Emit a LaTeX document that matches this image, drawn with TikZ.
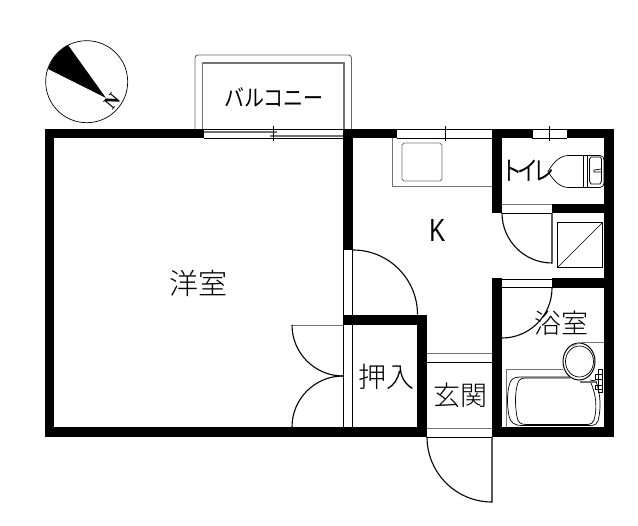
\documentclass[tikz,border=0pt]{standalone}
\usepackage{fontspec}
\newfontfamily\cjk{Noto Sans CJK JP Light}
\newfontfamily\cjkr{Noto Sans CJK JP}
\newfontfamily\serifn{Liberation Serif}
\setmainfont{Liberation Sans}
\tikzset{
 wall/.style={fill=black,draw=none},
 thin line/.style={draw=black,line width=0.9pt},
 grey line/.style={draw=black!55,line width=0.9pt},
 fine/.style={draw=black,line width=0.7pt},
 door/.style={draw=black,line width=1.1pt},
 label/.style={inner sep=0pt,font=\cjk\fontsize{28}{28}\selectfont},
}
\begin{document}
\begin{tikzpicture}[x=1pt,y=-1pt]
\useasboundingbox (0,0) rectangle (638,526);
% walls
\fill[wall] (45,129) rectangle (204,138.5);
\fill[wall] (45,129) rectangle (54,437);
\fill[wall] (343,129) rectangle (397,138.5);
\fill[wall] (343,129) rectangle (353,250);
\fill[wall] (492,129) rectangle (532,138.5);
\fill[wall] (567,129) rectangle (614,138.5);
\fill[wall] (604,129) rectangle (614,437);
\fill[wall] (492,129) rectangle (502,213);
\fill[wall] (552,204) rectangle (604,213);
\fill[wall] (492,278) rectangle (502,437);
\fill[wall] (552,278) rectangle (604,288);
\fill[wall] (45,427) rectangle (427,437);
\fill[wall] (492,427) rectangle (614,437);
\fill[wall] (343,315) rectangle (427,325);
\fill[wall] (417,315) rectangle (427,437);
% balcony
\draw[thin line,black!60,rounded corners=3pt] (195,129) -- (195,55) -- (351.5,55) -- (351.5,129);
\draw[grey line,line width=1.2pt] (202.5,129) -- (202.5,63) -- (344,63) -- (344,129);
% balcony window
\draw[thin line] (204,129.5) -- (343,129.5) (204,138) -- (343,138);
\draw[draw=black!55,line width=2pt] (204,132) -- (277,132) (270,136) -- (343,136);
\draw[thin line] (273,126) -- (273,141);
% kitchen window
\draw[thin line] (397,129.5) -- (492,129.5) (397,138) -- (492,138);
\draw[thin line] (445,126) -- (445,141);
% toilet window
\draw[thin line] (532,129.5) -- (567,129.5) (532,138) -- (567,138) (532,129) -- (532,138) (567,129) -- (567,138);
\draw[thin line] (549,126) -- (549,141);
% sink
\draw[grey line] (392,138.5) -- (392,186) -- (492,186);
\draw[grey line] (404,143) -- (440,143) -- (442,145) -- (442,179) -- (440,181) -- (404,181) -- (402,179) -- (402,145) -- cycle;
% door openings
\draw[grey line] (502,204.5) -- (552,204.5);
\draw[thin line] (502,213) -- (552,213);
\draw[thin line] (502,279) -- (552,279);
\draw[thin line] (502,287.5) -- (552,287.5);
\draw[thin line] (343.5,250) -- (343.5,437) (352.5,250) -- (352.5,437);
\fill[wall] (343,315) rectangle (353,325);
\fill[wall] (343,427) rectangle (353,437);
\draw[grey line] (427,353.5) -- (492,353.5);
\draw[thin line] (427,362) -- (492,362);
\draw[grey line] (427,428) -- (492,428);
\draw[thin line] (427,437) -- (492,437);
% doors
\draw[door] (552,213) -- (552,263) arc[start angle=90,end angle=180,radius=50];
\draw[door] (552,288) arc[start angle=0,end angle=90,radius=50];
\draw[door] (492,437) -- (492,502) arc[start angle=90,end angle=180,radius=65];
\draw[door] (353,250) arc[start angle=270,end angle=360,radius=64.5];
\draw[grey line] (343,325) -- (292,325);
\draw[door] (292,325) arc[start angle=180,end angle=90,radius=51];
\draw[door] (343,376) arc[start angle=270,end angle=180,radius=51];
% washing pan
\draw[fine,line width=1pt] (557,223) rectangle (602,268);
\draw[fine] (557,268) -- (602,223);
% toilet
\draw[fine] (583,155.5) -- (568,155.5) .. controls (558,156) and (552,165) .. (548,171.5) .. controls (552,178) and (558,187) .. (568,187.5) -- (583,187.5);
\draw[fine] (583,155.5) rectangle (587,187.5);
\draw[fine] (587,155.5) -- (600,155.5) .. controls (603,155.5) and (604,158) .. (604,160) -- (604,183) .. controls (604,185) and (603,187.5) .. (600,187.5) -- (587,187.5);
\draw[fine] (591,157) -- (600,157) -- (601.5,159) -- (601.5,181) -- (600,184) -- (591,184) -- (589.5,181) -- (589.5,159) -- cycle;
\draw[fine] (594,170) -- (601.5,169) -- (601.5,172) -- (594,172) -- cycle;
% bath
\draw[grey line] (506,427) -- (506,369) -- (563,369);
\draw[fine] (520,377) -- (570,377) (590,380) -- (596,381) .. controls (601,395) and (601,410) .. (598,421) .. controls (597,424) and (595,425.5) .. (590,425.5) -- (522,425.5) .. controls (514,425.5) and (510,422) .. (509,416) .. controls (507,405) and (507,395) .. (509,386) .. controls (510,380) and (513,377) .. (520,377);
\draw[fine] (525,378) -- (570,378) (590,381) .. controls (597,395) and (597,410) .. (594,420) .. controls (593,423) and (591,424.5) .. (588,424.5) -- (526,424.5) .. controls (520,424.5) and (518,422) .. (517,417) .. controls (515,405) and (515,395) .. (517,386) .. controls (518,381) and (520,378) .. (525,378);
\draw[fine,line width=1pt] (579,361.5) circle[x radius=16,y radius=18.5];
\draw[fine] (579.5,361.5) circle[x radius=14,y radius=15.5];
\draw[grey line] (604,342.5) -- (585,342.5) .. controls (580,342.5) and (576,344) .. (572,346);
\draw[grey line,line width=1.6pt] (580,382) -- (596,382);
\draw[fine] (595,374) rectangle (602,379) (595,385) rectangle (602,389) (598,369) rectangle (602,392);
% compass
\draw[fine] (86.7,81.7) circle[radius=41];
\fill[black] (106,98) -- (48,69) .. controls (52,58) and (59,50) .. (68,45) -- cycle;
\node[inner sep=0pt,rotate=50,font=\serifn\fontsize{19}{19}\selectfont\bfseries] (north) at (112,101) {N};
% labels
\node[inner sep=0pt,yscale=1.15,font=\cjkr\fontsize{20}{20}\selectfont] (balc) at (274,97) {バルコニー};
\node[inner sep=0pt,xscale=0.75,font=\fontsize{32}{32}\selectfont] (k) at (437.5,230) {K};
\node[label,font=\cjk\fontsize{29}{29}\selectfont] (yo) at (198.5,283) {洋室};
\node[inner sep=0pt,yscale=1.25,font=\cjkr\fontsize{21}{21}\selectfont] (toi) at (527.5,171) {ト\hspace{-5pt}イ\hspace{-5pt}レ};
\node[label,font=\cjk\fontsize{27}{27}\selectfont] (yoku) at (561.5,323) {浴室};
\node[label] (oshi) at (386,377) {押入};
\node[label,font=\cjk\fontsize{27}{27}\selectfont] (gen) at (460,395) {玄関};
\end{tikzpicture}
\end{document}
